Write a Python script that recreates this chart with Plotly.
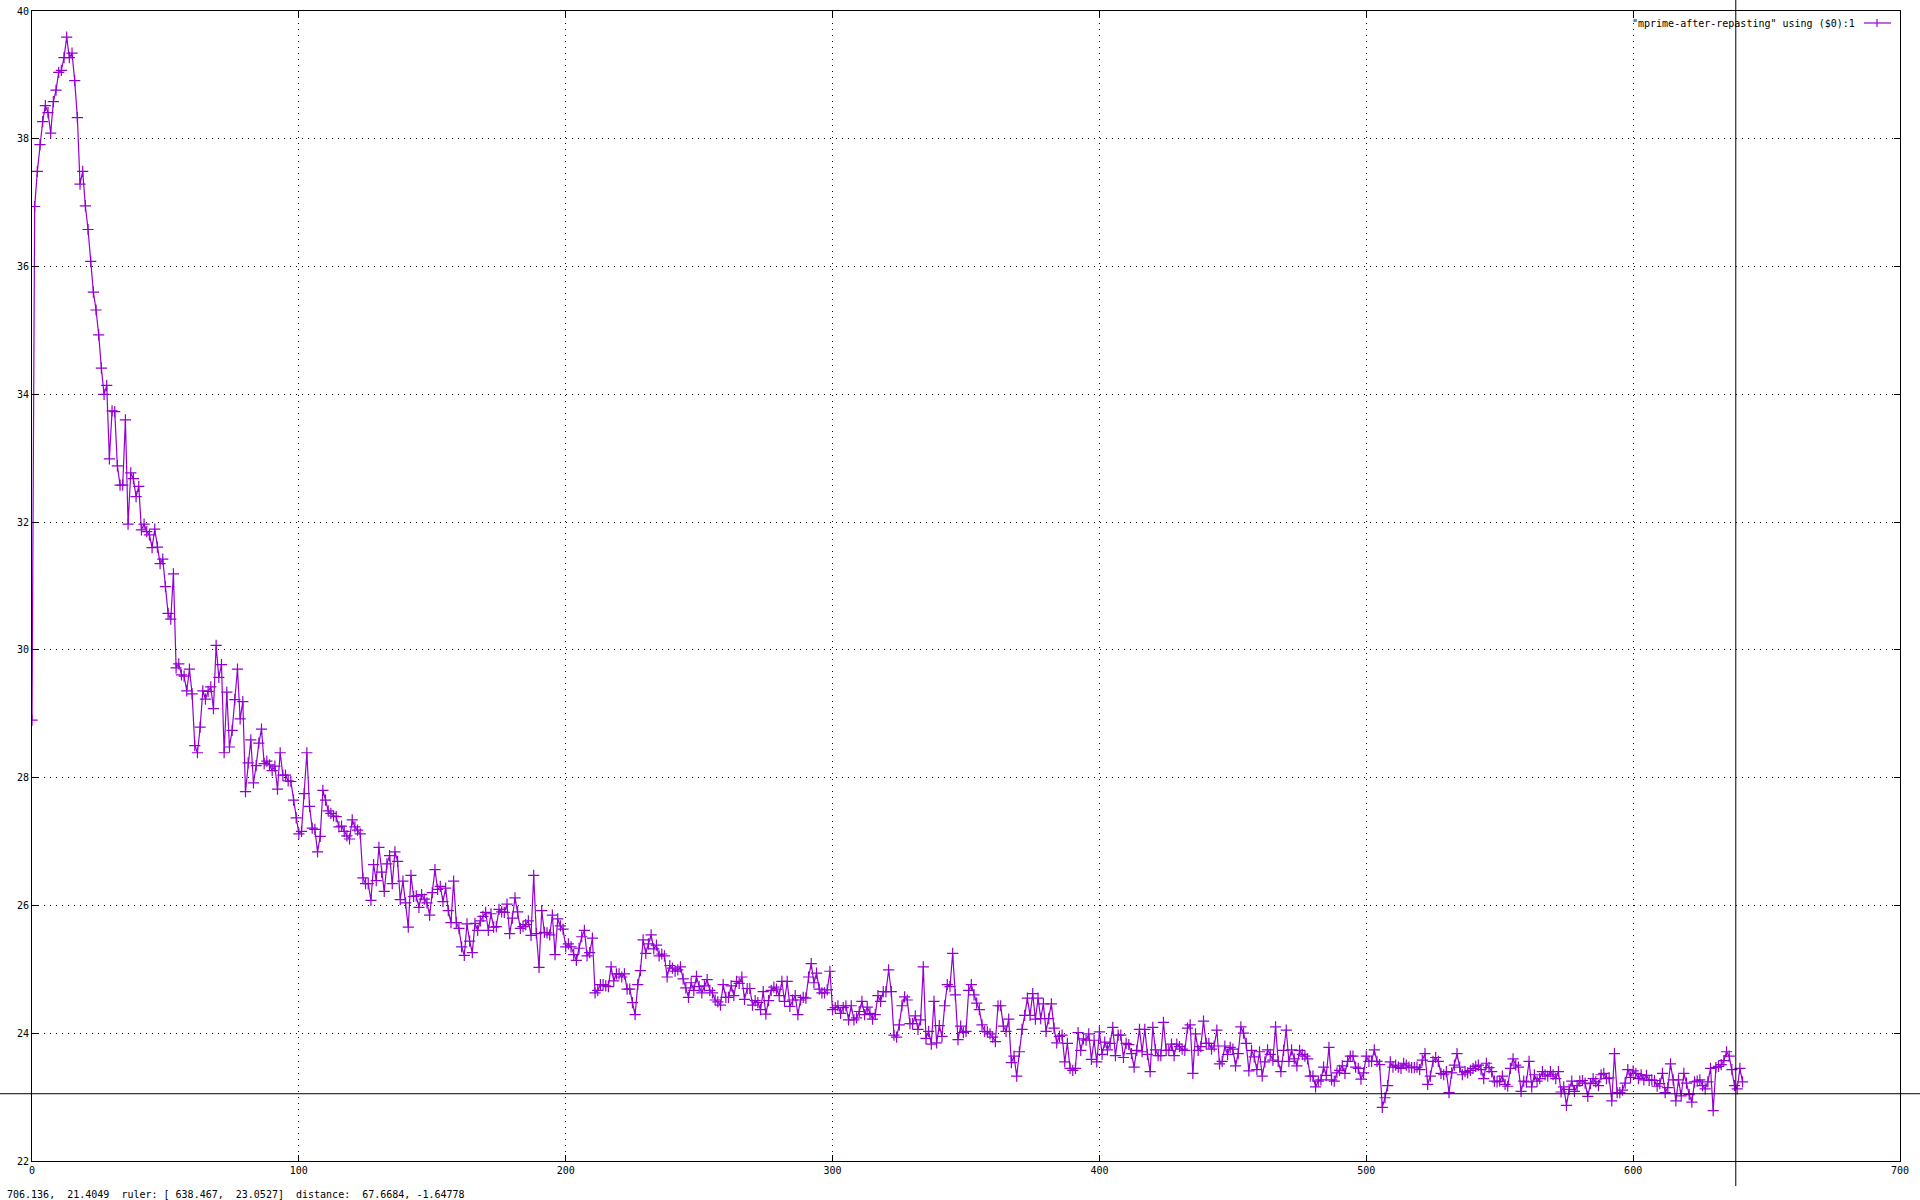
"""
Gnuplot-style temperature trace: "mprime-after-repasting" using ($0):1.

Values were read off the reference picture, one per sample row.
"""

import plotly.graph_objects as go

# sample values, split in blocks of 50 rows (row index = x, like gnuplot's $0)
temps_000 = [
    28.90, 36.94, 37.49, 37.91, 38.27, 38.52, 38.41, 38.09, 38.58, 38.76,
    39.04, 39.07, 39.27, 39.59, 39.27, 39.34, 38.91, 38.33, 37.29, 37.49,
    36.95, 36.58, 36.08, 35.60, 35.32, 34.93, 34.41, 34.00, 34.14, 32.99,
    33.74, 33.73, 32.88, 32.58, 32.58, 33.60, 31.97, 32.77, 32.68, 32.40,
    32.56, 31.88, 31.97, 31.85, 31.80, 31.60, 31.89, 31.61, 31.35, 31.42,
]
temps_050 = [
    30.99, 30.57, 30.48, 31.19, 29.72, 29.78, 29.61, 29.59, 29.36, 29.70,
    29.31, 28.50, 28.39, 28.79, 29.36, 29.23, 29.35, 29.42, 29.08, 30.07,
    29.57, 29.77, 28.39, 29.34, 28.48, 28.74, 29.22, 29.70, 28.92, 29.19,
    27.78, 28.23, 28.59, 27.92, 28.19, 28.54, 28.76, 28.22, 28.26, 28.20,
    28.11, 28.18, 27.82, 28.39, 28.04, 28.04, 27.95, 27.94, 27.65, 27.37,
]
temps_100 = [
    27.12, 27.16, 27.75, 28.39, 27.55, 27.21, 27.19, 26.84, 27.08, 27.80,
    27.65, 27.48, 27.44, 27.40, 27.39, 27.23, 27.24, 27.16, 27.09, 27.04,
    27.34, 27.23, 27.18, 27.12, 26.43, 26.34, 26.34, 26.08, 26.64, 26.39,
    26.91, 26.52, 26.22, 26.65, 26.78, 26.34, 26.84, 26.69, 26.09, 26.38,
    26.04, 25.66, 26.47, 26.14, 26.15, 25.97, 26.17, 26.10, 26.04, 25.85,
]
temps_150 = [
    26.20, 26.56, 26.25, 26.30, 26.06, 26.27, 25.92, 25.73, 26.38, 25.73,
    25.64, 25.35, 25.22, 25.71, 25.44, 25.26, 25.72, 25.61, 25.76, 25.83,
    25.89, 25.61, 25.87, 25.66, 25.67, 25.94, 25.90, 25.89, 26.02, 25.56,
    25.80, 26.12, 25.90, 25.64, 25.67, 25.70, 25.76, 25.53, 26.47, 25.56,
    25.03, 25.92, 25.58, 25.57, 25.54, 25.85, 25.23, 25.79, 25.68, 25.63,
]
temps_200 = [
    25.35, 25.40, 25.35, 25.23, 25.14, 25.33, 25.51, 25.61, 25.21, 25.26,
    25.49, 24.63, 24.67, 24.76, 24.76, 24.74, 24.73, 25.04, 24.82, 24.93,
    24.93, 24.88, 24.93, 24.69, 24.69, 24.48, 24.29, 24.76, 24.98, 25.46,
    25.25, 25.40, 25.54, 25.32, 25.38, 25.21, 25.24, 25.21, 24.88, 25.06,
    25.02, 24.97, 24.99, 25.04, 24.85, 24.71, 24.56, 24.79, 24.67, 24.89,
]
temps_250 = [
    24.73, 24.63, 24.74, 24.84, 24.67, 24.63, 24.52, 24.49, 24.44, 24.76,
    24.56, 24.56, 24.74, 24.59, 24.81, 24.78, 24.88, 24.53, 24.70, 24.70,
    24.44, 24.51, 24.48, 24.37, 24.65, 24.30, 24.51, 24.67, 24.72, 24.69,
    24.59, 24.81, 24.50, 24.81, 24.42, 24.52, 24.59, 24.29, 24.52, 24.56,
    24.55, 24.88, 25.09, 24.79, 24.94, 24.69, 24.63, 24.63, 24.68, 24.97,
]
temps_300 = [
    24.37, 24.40, 24.43, 24.31, 24.40, 24.43, 24.21, 24.43, 24.21, 24.24,
    24.34, 24.50, 24.29, 24.41, 24.31, 24.22, 24.29, 24.59, 24.50, 24.65,
    24.65, 24.99, 24.65, 23.97, 23.94, 24.13, 24.43, 24.57, 24.52, 24.15,
    24.15, 24.27, 24.06, 24.21, 25.04, 23.92, 24.03, 23.83, 24.50, 23.85,
    24.12, 23.95, 24.43, 24.76, 24.73, 25.25, 24.60, 23.90, 24.11, 24.01,
]
temps_350 = [
    24.03, 24.67, 24.76, 24.60, 24.47, 24.37, 24.13, 24.03, 24.02, 23.99,
    23.94, 23.87, 24.43, 24.43, 24.11, 24.03, 24.22, 23.54, 23.64, 23.33,
    23.71, 24.06, 24.28, 24.55, 24.28, 24.62, 24.22, 24.55, 24.23, 24.46,
    24.03, 24.23, 24.46, 24.08, 23.85, 23.95, 23.97, 23.55, 23.84, 23.45,
    23.42, 23.45, 24.01, 23.73, 23.91, 23.89, 23.99, 23.59, 23.89, 23.55,
]
temps_400 = [
    24.02, 23.67, 23.86, 23.74, 23.84, 24.09, 23.65, 23.97, 23.97, 23.62,
    23.84, 23.82, 23.68, 23.47, 23.73, 24.06, 23.71, 24.06, 23.67, 23.40,
    24.09, 23.74, 23.65, 23.65, 24.17, 23.73, 23.73, 23.83, 23.65, 23.83,
    23.79, 23.75, 23.73, 24.08, 24.13, 23.37, 23.99, 23.73, 23.79, 24.19,
    23.84, 23.84, 23.75, 23.80, 24.05, 23.52, 23.56, 23.80, 23.67, 23.78,
]
temps_450 = [
    23.75, 23.49, 23.68, 24.10, 24.00, 23.84, 23.41, 23.73, 23.63, 23.43,
    23.71, 23.33, 23.55, 23.74, 23.67, 23.58, 24.10, 23.56, 23.40, 23.73,
    24.05, 23.56, 23.74, 23.60, 23.49, 23.73, 23.67, 23.64, 23.60, 23.33,
    23.33, 23.16, 23.25, 23.27, 23.47, 23.34, 23.78, 23.27, 23.25, 23.38,
    23.42, 23.49, 23.37, 23.56, 23.64, 23.64, 23.47, 23.45, 23.28, 23.38,
]
temps_500 = [
    23.64, 23.56, 23.56, 23.74, 23.56, 23.51, 22.84, 22.99, 23.18, 23.55,
    23.47, 23.50, 23.47, 23.45, 23.53, 23.50, 23.47, 23.46, 23.46, 23.47,
    23.43, 23.58, 23.68, 23.20, 23.33, 23.56, 23.62, 23.56, 23.37, 23.35,
    23.40, 23.07, 23.38, 23.50, 23.68, 23.47, 23.35, 23.40, 23.38, 23.42,
    23.45, 23.48, 23.50, 23.43, 23.29, 23.53, 23.46, 23.40, 23.25, 23.24,
]
temps_550 = [
    23.25, 23.33, 23.20, 23.17, 23.45, 23.60, 23.50, 23.47, 23.09, 23.25,
    23.24, 23.56, 23.16, 23.35, 23.25, 23.29, 23.40, 23.35, 23.33, 23.40,
    23.35, 23.29, 23.40, 23.08, 23.16, 22.87, 23.12, 23.25, 23.09, 23.18,
    23.25, 23.26, 23.22, 23.01, 23.21, 23.29, 23.24, 23.18, 23.35, 23.37,
    23.29, 23.30, 22.94, 23.68, 23.07, 23.07, 23.11, 23.22, 23.43, 23.31,
]
temps_600 = [
    23.41, 23.37, 23.29, 23.35, 23.27, 23.34, 23.26, 23.27, 23.26, 23.17,
    23.21, 23.37, 23.07, 23.15, 23.52, 23.27, 22.94, 23.27, 23.02, 23.37,
    23.22, 23.04, 22.92, 23.24, 23.25, 23.27, 23.18, 23.13, 23.24, 23.45,
    22.79, 23.46, 23.48, 23.51, 23.57, 23.71, 23.64, 23.43, 23.18, 23.13,
    23.45, 23.24,
]

X_TICKS = [0, 100, 200, 300, 400, 500, 600, 700]
Y_TICKS = [22, 24, 26, 28, 30, 32, 34, 36, 38, 40]

SERIES_NAME = '"mprime-after-repasting" using ($0):1'
STATUS_TEXT = "706.136,  21.4049  ruler: [ 638.467,  23.0527]  distance:  67.6684, -1.64778"
RULER_X = 638.467
RULER_Y = 23.0527

PURPLE = "#9400d3"
FONT = "DejaVu Sans Mono"

W, H = 1920, 1200
M_L, M_R, M_T, M_B = 32, 20, 11, 39
PLOT_W = W - M_L - M_R
PLOT_H = H - M_T - M_B


def px_to_paper(px, py):
    """Canvas pixel -> paper coords (for decorations outside the data)."""
    return (px - M_L) / PLOT_W, 1 - (py - M_T) / PLOT_H


temps = (
    temps_000 + temps_050 + temps_100 + temps_150 + temps_200 + temps_250
    + temps_300 + temps_350 + temps_400 + temps_450 + temps_500 + temps_550
    + temps_600
)
rows = list(range(len(temps)))

fig = go.Figure()
fig.add_trace(
    go.Scatter(
        x=rows,
        y=temps,
        mode="lines+markers",
        line=dict(color=PURPLE, width=1.2),
        marker=dict(symbol="cross-thin", size=8, line=dict(color=PURPLE, width=1.2)),
        showlegend=False,
        hoverinfo="skip",
    )
)

axis_common = dict(
    automargin=False,
    showline=True,
    linecolor="black",
    linewidth=1,
    mirror="allticks",
    ticks="inside",
    ticklen=6,
    tickcolor="black",
    showgrid=True,
    gridcolor="black",
    gridwidth=1,
    griddash="1px,5px",
    zeroline=False,
    tickfont=dict(family=FONT, size=10, color="black"),
    tickmode="array",
)

fig.update_xaxes(range=[0, 700], tickvals=X_TICKS, ticktext=[str(v) for v in X_TICKS], **axis_common)
fig.update_yaxes(range=[22, 40], tickvals=Y_TICKS, ticktext=[str(v) for v in Y_TICKS], **axis_common)

# gnuplot mouse ruler: crosshair spanning the whole window
x_left, _ = px_to_paper(0, 0)
x_right, _ = px_to_paper(W, 0)
_, y_top = px_to_paper(0, 0)
_, y_bot = px_to_paper(0, 1186)
fig.add_shape(type="line", xref="paper", yref="y", x0=x_left, x1=x_right, y0=RULER_Y, y1=RULER_Y,
              line=dict(color="black", width=1), layer="above")
fig.add_shape(type="line", xref="x", yref="paper", x0=RULER_X, x1=RULER_X, y0=y_bot, y1=y_top,
              line=dict(color="black", width=1), layer="above")

# key, top right: text then sample line with a point
kx, ky = px_to_paper(1857, 23)
fig.add_annotation(xref="paper", yref="paper", x=kx, y=ky, text=SERIES_NAME.replace(" ", "\u00a0"),
                   showarrow=False, xanchor="right", yanchor="middle",
                   font=dict(family=FONT, size=10, color="black"))
sx0, _ = px_to_paper(1864, 23)
sx1, _ = px_to_paper(1891, 23)
cx, cy0 = px_to_paper(1877, 19)
_, cy1 = px_to_paper(1877, 27)
fig.add_shape(type="line", xref="paper", yref="paper", x0=sx0, x1=sx1, y0=ky, y1=ky,
              line=dict(color=PURPLE, width=1.2))
fig.add_shape(type="line", xref="paper", yref="paper", x0=cx, x1=cx, y0=cy0, y1=cy1,
              line=dict(color=PURPLE, width=1.2))

# status line under the plot
stx, sty = px_to_paper(5, 1194)
fig.add_annotation(xref="paper", yref="paper", x=stx, y=sty, text=STATUS_TEXT.replace(" ", "\u00a0"),
                   showarrow=False, xanchor="left", yanchor="middle",
                   font=dict(family=FONT, size=10, color="black"))

fig.update_layout(
    width=W,
    height=H,
    margin=dict(l=M_L, r=M_R, t=M_T, b=M_B, pad=0),
    paper_bgcolor="white",
    plot_bgcolor="white",
    showlegend=False,
)

fig.write_html(
    "out.html",
    config={"displayModeBar": False},
    post_script="document.body.style.margin='0';document.body.style.overflow='hidden';",
)
